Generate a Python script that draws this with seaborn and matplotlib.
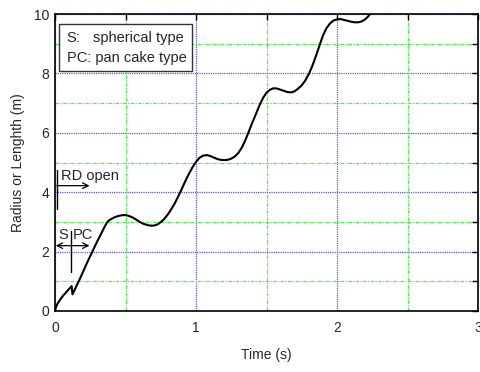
import matplotlib
matplotlib.use("Agg")
import matplotlib.pyplot as plt
from matplotlib.patches import Rectangle
from matplotlib.ticker import MultipleLocator
import pandas as pd
import seaborn as sns

# Bubble radius / length history
time_s = [0.0, 0.005, 0.015, 0.03, 0.045, 0.06, 0.075, 0.09, 0.105, 0.118,
          0.124, 0.14, 0.16, 0.18, 0.2, 0.225, 0.25, 0.275, 0.3, 0.325,
          0.35, 0.369, 0.38, 0.4, 0.425, 0.45, 0.475, 0.5, 0.525, 0.55,
          0.575, 0.6, 0.625, 0.65, 0.675, 0.7, 0.725, 0.75, 0.775, 0.8,
          0.825, 0.85, 0.875, 0.9, 0.925, 0.95, 0.975, 1.0, 1.025, 1.05,
          1.075, 1.1, 1.125, 1.15, 1.175, 1.2, 1.225, 1.25, 1.275, 1.3,
          1.325, 1.35, 1.375, 1.4, 1.425, 1.45, 1.475, 1.5, 1.525, 1.55,
          1.575, 1.6, 1.625, 1.65, 1.675, 1.7, 1.725, 1.75, 1.775, 1.8,
          1.825, 1.85, 1.875, 1.9, 1.925, 1.95, 1.975, 2.0, 2.025, 2.05,
          2.075, 2.1, 2.125, 2.15, 2.175, 2.2, 2.225, 2.24]
radius_m = [0.0, 0.1, 0.22, 0.34, 0.44, 0.53, 0.61, 0.69, 0.77, 0.84,
            0.56, 0.72, 0.92, 1.12, 1.33, 1.6, 1.85, 2.1, 2.35, 2.58,
            2.82, 2.98, 3.04, 3.1, 3.16, 3.2, 3.225, 3.23, 3.2, 3.15,
            3.08, 3.0, 2.94, 2.9, 2.875, 2.875, 2.91, 2.99, 3.1, 3.25,
            3.43, 3.63, 3.87, 4.12, 4.38, 4.62, 4.84, 5.02, 5.16, 5.23,
            5.25, 5.22, 5.17, 5.12, 5.09, 5.08, 5.09, 5.13, 5.2, 5.32,
            5.5, 5.75, 6.05, 6.35, 6.63, 6.92, 7.17, 7.35, 7.45, 7.5,
            7.49, 7.45, 7.41, 7.37, 7.36, 7.4, 7.49, 7.6, 7.76, 7.98,
            8.25, 8.58, 8.93, 9.27, 9.52, 9.68, 9.78, 9.82, 9.83, 9.8,
            9.77, 9.74, 9.72, 9.72, 9.75, 9.82, 9.94, 10.03]

x_ticks = [0, 1, 2, 3]
y_ticks = [0, 2, 4, 6, 8, 10]
x_label = "Time (s)"
y_label = "Radius or Lenghth (m)"
legend_keys = ["S:", "PC:"]
legend_names = ["spherical type", "pan cake type"]

sns.set_style("white")
plt.rcParams["font.family"] = ["Liberation Sans", "DejaVu Sans"]

fig = plt.figure(figsize=(4.8, 3.72), dpi=100)
ax = fig.add_axes([55 / 480, 1 - 311 / 372, 423 / 480, 297 / 372])

df = pd.DataFrame({"t": time_s, "r": radius_m})
sns.lineplot(data=df, x="t", y="r", color="black", linewidth=1.5,
             sort=False, estimator=None, ax=ax, zorder=5)

ax.set_xlim(0, 3)
ax.set_ylim(0, 10)
ax.set_xticks(x_ticks)
ax.set_yticks(y_ticks)
ax.xaxis.set_minor_locator(MultipleLocator(0.5))
ax.yaxis.set_minor_locator(MultipleLocator(1))

ax.set_axisbelow(True)
ax.grid(which="major", color="#5a5aff", linestyle=(0, (1, 0.8)), linewidth=0.9)
ax.grid(which="minor", color="#4cf04c", linestyle=(0, (3, 1, 1, 1)), linewidth=0.9)

ax.tick_params(which="both", direction="in", length=4, width=1,
               top=True, right=True, color="black")
ax.tick_params(axis="x", which="major", labelsize=10, pad=7)
ax.tick_params(axis="y", which="major", labelsize=10, pad=4)
for s in ax.spines.values():
    s.set_color("black")
    s.set_linewidth(1.2)

ax.set_xlabel(x_label, fontsize=10)
ax.set_ylabel(y_label, fontsize=10)
ax.xaxis.set_label_coords(0.5, -0.125)
ax.yaxis.set_label_coords(-0.072, 0.5)

# Key box in the upper left corner
ax.add_patch(Rectangle((0.03, 8.09), 0.944, 1.57, facecolor="white",
                       edgecolor="#333333", linewidth=1.0, zorder=6))
ax.text(0.083, 9.18, legend_keys[0], fontsize=10.5, va="center", ha="left", zorder=7)
ax.text(0.272, 9.18, legend_names[0], fontsize=10.5, va="center", ha="left", zorder=7)
ax.text(0.083, 8.51, legend_keys[1] + " " + legend_names[1], fontsize=10.5,
        va="center", ha="left", zorder=7)

# RD open marker
ax.plot([0.012, 0.012], [3.45, 4.75], color="black", linewidth=1.0, zorder=6)
ax.annotate("", xy=(0.245, 4.22), xytext=(0.012, 4.22),
            arrowprops=dict(arrowstyle="->", color="black", lw=0.9,
                            shrinkA=0, shrinkB=0), zorder=6)
ax.text(0.045, 4.55, "RD open", fontsize=10.5, va="center", ha="left", zorder=7)

# Spherical / pan cake transition marker
ax.plot([0.111, 0.111], [1.3, 2.7], color="black", linewidth=1.0, zorder=6)
ax.annotate("", xy=(0.005, 2.2), xytext=(0.245, 2.2),
            arrowprops=dict(arrowstyle="<->", color="black", lw=0.9,
                            shrinkA=0, shrinkB=0), zorder=6)
ax.text(0.025, 2.55, "S", fontsize=10.5, va="center", ha="left", zorder=7)
ax.text(0.128, 2.55, "PC", fontsize=10.5, va="center", ha="left", zorder=7)

fig.savefig("out.png", dpi=100)
